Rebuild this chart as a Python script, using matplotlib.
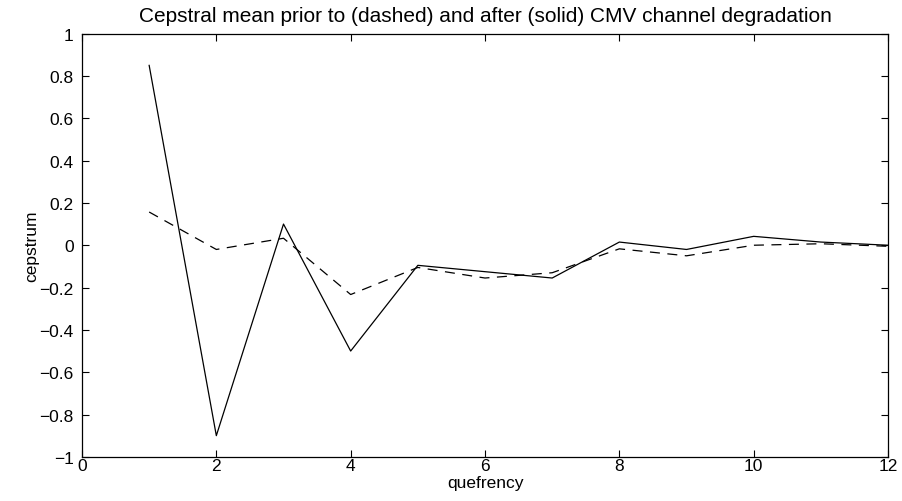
import matplotlib
matplotlib.use('Agg')
import matplotlib.pyplot as plt

plt.rcParams['font.family'] = ['Liberation Sans', 'DejaVu Sans']

# quefrency index and cepstral means
quefrency = [1, 2, 3, 4, 5, 6, 7, 8, 9, 10, 11, 12]
after_solid = [0.85, -0.90, 0.10, -0.50, -0.095, -0.125, -0.155, 0.015, -0.02, 0.042, 0.015, 0.0]
prior_dashed = [0.157, -0.02, 0.033, -0.233, -0.105, -0.155, -0.13, -0.017, -0.05, 0.0, 0.007, -0.005]

x_ticks = [0, 2, 4, 6, 8, 10, 12]
y_ticks = [-1, -0.8, -0.6, -0.4, -0.2, 0, 0.2, 0.4, 0.6, 0.8, 1]
y_labels = ['\u22121', '\u22120.8', '\u22120.6', '\u22120.4', '\u22120.2', '0', '0.2', '0.4', '0.6', '0.8', '1']

fig = plt.figure(figsize=(9.02, 5.02), dpi=100)
ax = fig.add_axes([0.0909, 0.088, 0.8936, 0.843])

ax.plot(quefrency, after_solid, color='black', linewidth=0.9, linestyle='-')
ax.plot(quefrency, prior_dashed, color='black', linewidth=0.9, linestyle=(0, (8, 6)))

ax.set_xlim(0, 12)
ax.set_ylim(-1, 1)
ax.set_xticks(x_ticks)
ax.set_xticklabels([str(t) for t in x_ticks])
ax.set_yticks(y_ticks)
ax.set_yticklabels(y_labels)

ax.tick_params(direction='in', length=5, width=0.8, top=True, right=True,
               labelsize=12.5)
ax.tick_params(axis='x', pad=1)
ax.tick_params(axis='y', pad=6)
for s in ax.spines.values():
    s.set_linewidth(0.9)

ax.set_title('Cepstral mean prior to (dashed) and after (solid) CMV channel degradation',
             fontsize=15, pad=9)
ax.set_xlabel('quefrency', fontsize=12.5, labelpad=1)
ax.set_ylabel('cepstrum', fontsize=12.5, labelpad=0)

fig.savefig('out.png', dpi=100)
